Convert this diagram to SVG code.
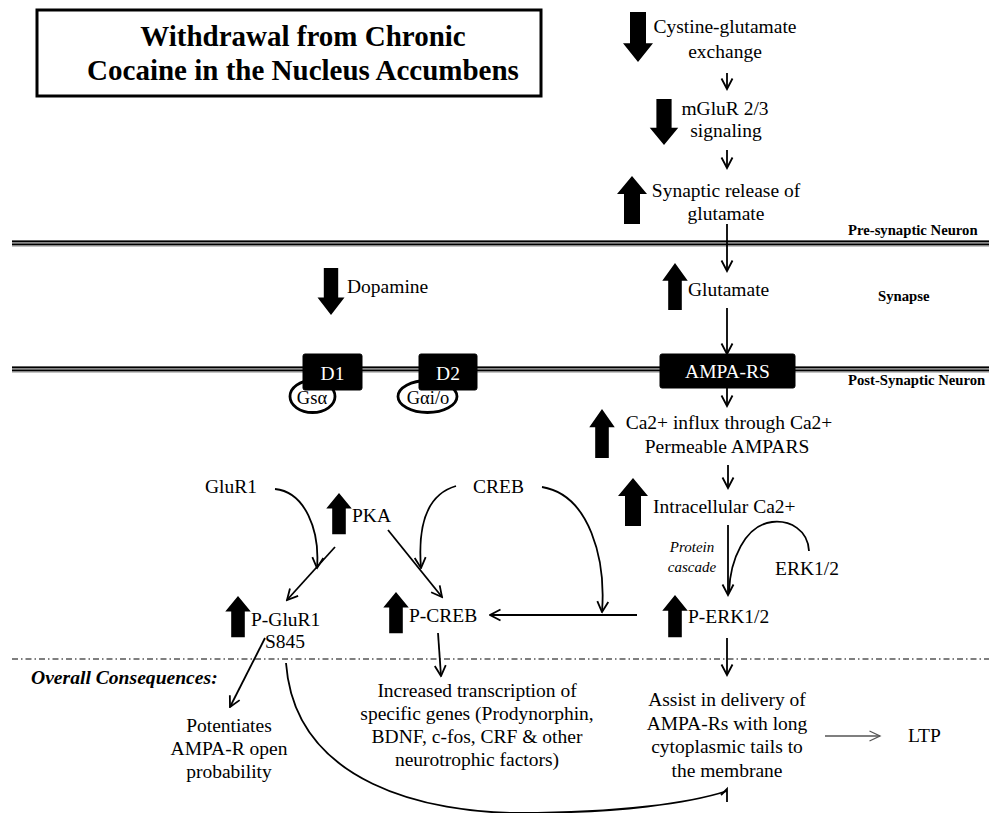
<svg xmlns="http://www.w3.org/2000/svg" xmlns:xlink="http://www.w3.org/1999/xlink" width="989" height="813" viewBox="0 0 989 813">
<defs>
<style>
text{font-family:"Liberation Serif","Times New Roman",serif;fill:#000}
.t{font-size:19.5px}
.c{text-anchor:middle}
.w{fill:#fff}
.lab{font-size:14.7px;font-weight:bold}
.it{font-size:15px;font-style:italic}
.con{fill:none;stroke:#000;stroke-width:1.8}
.box{fill:#000;stroke:#000}
.g{fill:#fff;stroke:#000;stroke-width:2.8}
</style>
<path id="up" d="M0,0 L15,18 L8,18 L8,48 L-8,48 L-8,18 L-15,18 Z" fill="#000"/>
<path id="dn" d="M0,48 L15,30 L8,30 L8,0 L-8,0 L-8,30 L-15,30 Z" fill="#000"/>
<marker id="ah" viewBox="0 0 14 14" refX="12.5" refY="7" markerWidth="14" markerHeight="14" markerUnits="userSpaceOnUse" orient="auto">
<path d="M2,1.5 L12.5,7 L2,12.5" fill="none" stroke="#000" stroke-width="1.8"/>
</marker>
<marker id="ahg" viewBox="0 0 14 14" refX="12.5" refY="7" markerWidth="14" markerHeight="14" markerUnits="userSpaceOnUse" orient="auto">
<path d="M2,2 L12.5,7 L2,12" fill="none" stroke="#555" stroke-width="1.3"/>
</marker>
</defs>
<rect width="989" height="813" fill="#fff"/>

<g id="title">
<rect x="37" y="10" width="504" height="86" fill="#fff" stroke="#000" stroke-width="3"/>
<text x="303" y="46" class="c" font-size="29" font-weight="bold">Withdrawal from Chronic</text>
<text x="303" y="80" class="c" font-size="29" font-weight="bold">Cocaine in the Nucleus Accumbens</text>
</g>

<g id="membranes">
<rect x="12" y="240.5" width="977" height="6" fill="#888"/>
<line x1="12" y1="241.2" x2="989" y2="241.2" stroke="#000" stroke-width="1.4"/>
<line x1="12" y1="244.4" x2="989" y2="244.4" stroke="#000" stroke-width="1.4"/>
<rect x="12" y="366.5" width="977" height="6" fill="#888"/>
<line x1="12" y1="367.2" x2="989" y2="367.2" stroke="#000" stroke-width="1.4"/>
<line x1="12" y1="370.4" x2="989" y2="370.4" stroke="#000" stroke-width="1.4"/>
<line x1="12" y1="659" x2="989" y2="659" stroke="#000" stroke-width="1.2" stroke-dasharray="6 3 1.5 3"/>
<text x="848" y="235" class="lab">Pre-synaptic Neuron</text>
<text x="878" y="301" class="lab">Synapse</text>
<text x="848" y="385" class="lab">Post-Synaptic Neuron</text>
</g>

<g id="connectors">
<line class="con" x1="727" y1="73" x2="727" y2="89" marker-end="url(#ah)"/>
<line class="con" x1="727" y1="150" x2="727" y2="168" marker-end="url(#ah)"/>
<line class="con" x1="727" y1="224" x2="727" y2="271" marker-end="url(#ah)"/>
<line class="con" x1="727" y1="308" x2="727" y2="354" marker-end="url(#ah)"/>
<line class="con" x1="727" y1="388" x2="727" y2="406" marker-end="url(#ah)"/>
<line class="con" x1="728" y1="465" x2="728" y2="488" marker-end="url(#ah)"/>
<line class="con" x1="728" y1="525" x2="728" y2="595" marker-end="url(#ah)"/>
<path class="con" d="M809 551 C808 530 790 520 772 522 C745 525 730 560 729 592"/>
<path class="con" d="M637 615 L490 615" marker-end="url(#ah)"/>
<path class="con" d="M542 487 C590 495 606 560 602 612" marker-end="url(#ah)"/>
<path class="con" d="M275 489 C305 492 320 530 317 568" marker-end="url(#ah)"/>
<path class="con" d="M335 547 L287 600" marker-end="url(#ah)"/>
<path class="con" d="M456 486 C425 495 418 530 421 568" marker-end="url(#ah)"/>
<path class="con" d="M388 530 L442 597" marker-end="url(#ah)"/>
<path class="con" d="M438 633 L441 676" marker-end="url(#ah)"/>
<path class="con" d="M727 638 L727 675" marker-end="url(#ah)"/>
<path class="con" d="M265 638 L230 707" marker-end="url(#ah)"/>
<path class="con" d="M286 663 C295 785 430 813 520 813 C620 813 690 803 727 791"/>
<path class="con" d="M721 795 L727 789 L727 802"/>
<line x1="825" y1="736" x2="880" y2="736" fill="none" stroke="#555" stroke-width="1.3" marker-end="url(#ahg)"/>
</g>

<g id="cystine">
<use xlink:href="#dn" transform="translate(638 12) scale(1 1.04)"/>
<text x="725" y="33" class="t c">Cystine-glutamate</text>
<text x="725" y="58" class="t c">exchange</text>
</g>
<g id="mglur">
<use xlink:href="#dn" transform="translate(664 99) scale(0.95 0.96)"/>
<text x="725" y="115" class="t c">mGluR 2/3</text>
<text x="726" y="137" class="t c">signaling</text>
</g>
<g id="release">
<use xlink:href="#up" transform="translate(632 176)"/>
<text x="726" y="197" class="t c">Synaptic release of</text>
<text x="726" y="220" class="t c">glutamate</text>
</g>
<g id="dopamine">
<use xlink:href="#dn" transform="translate(331 268) scale(0.9 0.98)"/>
<text x="347" y="293" class="t">Dopamine</text>
</g>
<g id="glutamate">
<use xlink:href="#up" transform="translate(675 263) scale(0.85 0.98)"/>
<text x="688" y="296" class="t">Glutamate</text>
</g>
<g id="d1">
<ellipse class="g" cx="312.5" cy="396.5" rx="22.5" ry="16"/>
<rect class="box" x="303" y="354" width="59" height="36" rx="2"/>
<text x="332.5" y="380" class="t c w">D1</text>
<text x="312" y="404" class="c" font-size="18.5">Gsα</text>
</g>
<g id="d2">
<ellipse class="g" cx="427.5" cy="396.5" rx="29.5" ry="16"/>
<rect class="box" x="419" y="354" width="58" height="36" rx="2"/>
<text x="448" y="380" class="t c w">D2</text>
<text x="428" y="404" class="c" font-size="18.5">Gαi/o</text>
</g>
<g id="ampa">
<rect class="box" x="660" y="354" width="135" height="34" rx="2"/>
<text x="727.5" y="378" class="t c w">AMPA-RS</text>
</g>
<g id="ca-influx">
<use xlink:href="#up" transform="translate(602 409) scale(0.85 1.02)"/>
<text x="729" y="429" class="t c">Ca2+ influx through Ca2+</text>
<text x="727" y="453" class="t c">Permeable AMPARS</text>
</g>
<g id="intracellular">
<use xlink:href="#up" transform="translate(633 478)"/>
<text x="653" y="513" class="t">Intracellular Ca2+</text>
<text x="692" y="552" class="it c">Protein</text>
<text x="692" y="572" class="it c">cascade</text>
</g>
<g id="erk">
<text x="775" y="575" class="t">ERK1/2</text>
</g>
<g id="perk">
<use xlink:href="#up" transform="translate(675 595) scale(0.85 0.88)"/>
<text x="688" y="623" class="t">P-ERK1/2</text>
</g>
<g id="glur1">
<text x="205" y="493" class="t">GluR1</text>
</g>
<g id="creb">
<text x="473" y="493" class="t">CREB</text>
</g>
<g id="pka">
<use xlink:href="#up" transform="translate(339 493) scale(0.85 0.86)"/>
<text x="352" y="522" class="t">PKA</text>
</g>
<g id="pglur1">
<use xlink:href="#up" transform="translate(238 596) scale(0.85 0.86)"/>
<text x="251" y="626" class="t">P-GluR1</text>
<text x="265" y="648" class="t">S845</text>
</g>
<g id="pcreb">
<use xlink:href="#up" transform="translate(396 592) scale(0.85 0.86)"/>
<text x="409" y="622" class="t">P-CREB</text>
</g>
<g id="overall">
<text x="31" y="684" font-size="19.6" font-weight="bold" font-style="italic">Overall Consequences:</text>
</g>
<g id="potentiates">
<text x="229" y="732" class="t c">Potentiates</text>
<text x="229" y="755" class="t c">AMPA-R open</text>
<text x="229" y="778" class="t c">probability</text>
</g>
<g id="transcription">
<text x="477" y="697" class="t c">Increased transcription of</text>
<text x="477" y="720" class="t c">specific genes (Prodynorphin,</text>
<text x="477" y="743" class="t c">BDNF, c-fos, CRF &amp; other</text>
<text x="477" y="766" class="t c">neurotrophic factors)</text>
</g>
<g id="assist">
<text x="727" y="706" class="t c">Assist in delivery of</text>
<text x="727" y="730" class="t c">AMPA-Rs with long</text>
<text x="727" y="753" class="t c">cytoplasmic tails to</text>
<text x="727" y="777" class="t c">the membrane</text>
</g>
<g id="ltp">
<text x="908" y="742" class="t">LTP</text>
</g>
</svg>
